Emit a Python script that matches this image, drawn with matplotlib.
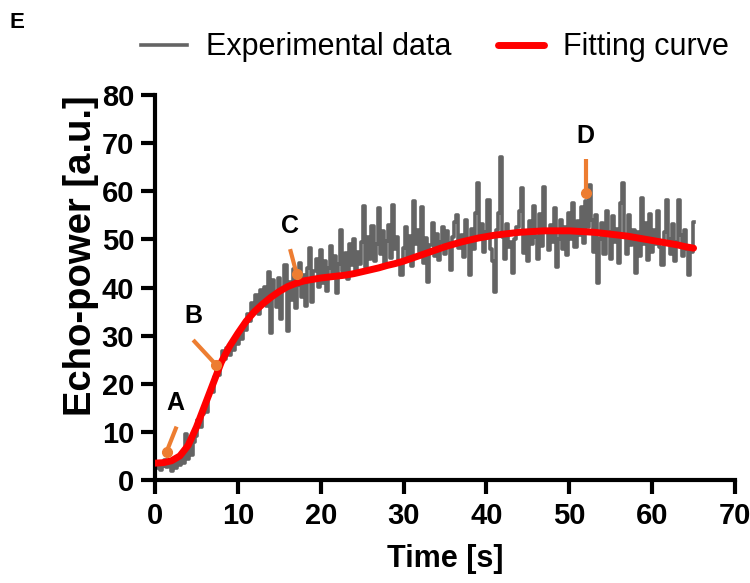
import numpy as np
import matplotlib
matplotlib.use("Agg")
import matplotlib.pyplot as plt

# echo power, sampled every 0.25 s from 0 to 65 s
echo = [
    3.2, 2.5, 3.8, 2.1, 3.0, 4.2, 2.6, 3.5, 1.8, 3.9, 2.4, 4.6, 3.1, 5.2, 3.6, 9.5, 4.4, 6.8, 5.1, 8.0,
    9.2, 12.4, 11.0, 13.8, 15.5, 14.2, 17.6, 19.0, 18.3, 21.5, 23.0, 21.8, 24.6, 26.8, 25.2, 27.4, 26.0, 28.3, 27.1, 29.0,
    28.2, 30.5, 29.4, 32.0, 31.1, 34.6, 33.0, 36.8, 35.2, 38.4, 34.5, 39.6, 37.0, 40.2, 36.1, 43.2, 30.5, 41.5, 38.2, 36.0,
    42.0, 33.5, 39.8, 44.6, 31.0, 41.2, 37.5, 43.8, 35.8, 40.5, 45.2, 38.0, 42.6, 36.2, 44.0, 48.3, 37.0, 43.5, 46.0, 40.2,
    47.8, 41.0, 45.5, 39.2, 44.0, 48.6, 42.2, 46.5, 38.8, 45.0, 52.0, 43.5, 47.2, 41.8, 49.0, 44.6, 50.2, 42.8, 47.5, 45.0,
    49.5, 57.0, 44.2, 50.6, 46.0, 52.8, 45.5, 49.0, 56.5, 47.0, 51.8, 44.8, 49.6, 53.0, 46.2, 57.2, 48.0, 50.5, 45.0, 42.6,
    48.2, 52.5, 46.0, 50.8, 44.5, 57.9, 49.0, 52.0, 47.5, 56.8, 45.2, 50.4, 41.2, 48.8, 53.5, 46.5, 51.2, 45.8, 49.5, 52.6,
    47.0, 51.8, 49.2, 43.7, 50.5, 53.6, 55.1, 48.2, 51.0, 46.4, 54.0, 49.5, 42.6, 52.2, 48.0, 55.5, 61.7, 50.0, 53.2, 47.5,
    51.5, 58.2, 48.0, 45.5, 39.1, 52.0, 55.5, 67.2, 50.5, 46.0, 53.2, 48.5, 49.5, 43.0, 50.0, 52.5, 56.0, 60.7, 47.2, 51.0,
    45.5, 53.8, 49.0, 57.0, 50.5, 46.0, 55.2, 48.6, 61.0, 51.5, 47.8, 53.0, 49.5, 56.5, 44.3, 50.2, 54.0, 48.0, 52.5, 46.8,
    55.5, 50.0, 57.5, 48.5, 53.8, 51.0, 56.8, 49.2, 58.0, 52.5, 61.3, 54.0, 47.5, 55.0, 41.0, 50.0, 53.5, 47.0, 56.0, 51.5,
    46.0, 54.8, 49.5, 52.2, 45.2, 57.5, 61.7, 50.5, 47.0, 55.0, 48.8, 52.0, 43.0, 51.5, 46.5, 58.6, 49.0, 53.5, 45.8, 55.2,
    47.5, 52.0, 49.0, 56.0, 48.5, 44.7, 51.5, 58.2, 50.0, 47.0, 53.2, 45.5, 49.5, 58.2, 51.0, 46.5, 52.0, 48.0, 42.6, 47.5, 53.7,
]
echo_t = np.linspace(0, 65, len(echo))

# fitting curve, one value per second
fit_t = list(range(0, 66))
fit = [
    3.5, 3.6, 4.0, 5.0, 7.2, 11.0, 15.5, 20.0, 24.5, 27.8, 30.5, 33.0, 35.0, 36.6, 38.0, 39.2,
    40.2, 40.9, 41.4, 41.7, 42.0, 42.2, 42.4, 42.6, 42.9, 43.3, 43.7, 44.1, 44.6, 45.0, 45.5,
    46.1, 46.7, 47.3, 47.9, 48.5, 49.0, 49.5, 49.9, 50.3, 50.6, 50.9, 51.1, 51.3, 51.5, 51.6,
    51.7, 51.8, 51.8, 51.8, 51.8, 51.7, 51.6, 51.5, 51.3, 51.1, 50.9, 50.7, 50.4, 50.1, 49.8,
    49.5, 49.2, 48.9, 48.5, 48.2,
]

# marked time points
marks = ["A", "B", "C", "D"]
mark_t = [1.4, 7.4, 17.1, 52.0]
mark_v = [5.9, 23.9, 42.8, 59.7]
tip_t = [2.6, 4.6, 16.3, 52.0]
tip_v = [11.1, 29.1, 48.0, 66.7]
label_t = [2.5, 4.6, 16.3, 52.0]
label_v = [16.0, 34.0, 52.8, 71.5]

plt.rcParams["font.family"] = ["Liberation Sans", "DejaVu Sans"]

fig = plt.figure(figsize=(7.5, 5.83), dpi=100)
ax = fig.add_axes([0.2067, 0.1767, 0.7733, 0.660])

ax.plot(echo_t, echo, color="#646464", lw=2.6, drawstyle="steps-mid",
        label="Experimental data", zorder=2)
ax.plot(fit_t, fit, color="#ff0000", lw=5, solid_capstyle="round",
        label="Fitting curve", zorder=3)

orange = "#ed7d31"
for m, t, v, tt, tv, lt, lv in zip(marks, mark_t, mark_v, tip_t, tip_v, label_t, label_v):
    ax.plot([tt, t], [tv, v], color=orange, lw=3, solid_capstyle="butt", zorder=4)
    ax.plot(t, v, "o", color=orange, ms=7, zorder=5)
    ax.text(lt, lv, m, ha="center", va="center", fontsize=18, fontweight="bold")

ax.set_xlim(0, 70)
ax.set_ylim(0, 80)
ax.set_xticks(range(0, 71, 10))
ax.set_yticks(range(0, 81, 10))
for s in ["top", "right"]:
    ax.spines[s].set_visible(False)
for s in ["left", "bottom"]:
    ax.spines[s].set_linewidth(3)
ax.tick_params(width=3, length=10, labelsize=21, pad=5)
ax.tick_params(axis="x", pad=6)
for lab in ax.get_xticklabels() + ax.get_yticklabels():
    lab.set_fontweight("bold")

ax.set_xlabel("Time [s]", fontsize=22, fontweight="bold", labelpad=10)
ax.set_ylabel("Echo-power [a.u.]", fontsize=27.5, fontweight="bold")
ax.yaxis.set_label_coords(-0.097, 0.582)

fig.legend(loc="center", bbox_to_anchor=(0.58, 0.919), ncol=2, frameon=False,
           fontsize=22, handlelength=1.5, columnspacing=1.5, handletextpad=0.65)
fig.text(0.013, 0.962, "E", fontsize=16, fontweight="bold", ha="left", va="center")

fig.savefig("out.png", dpi=100)
